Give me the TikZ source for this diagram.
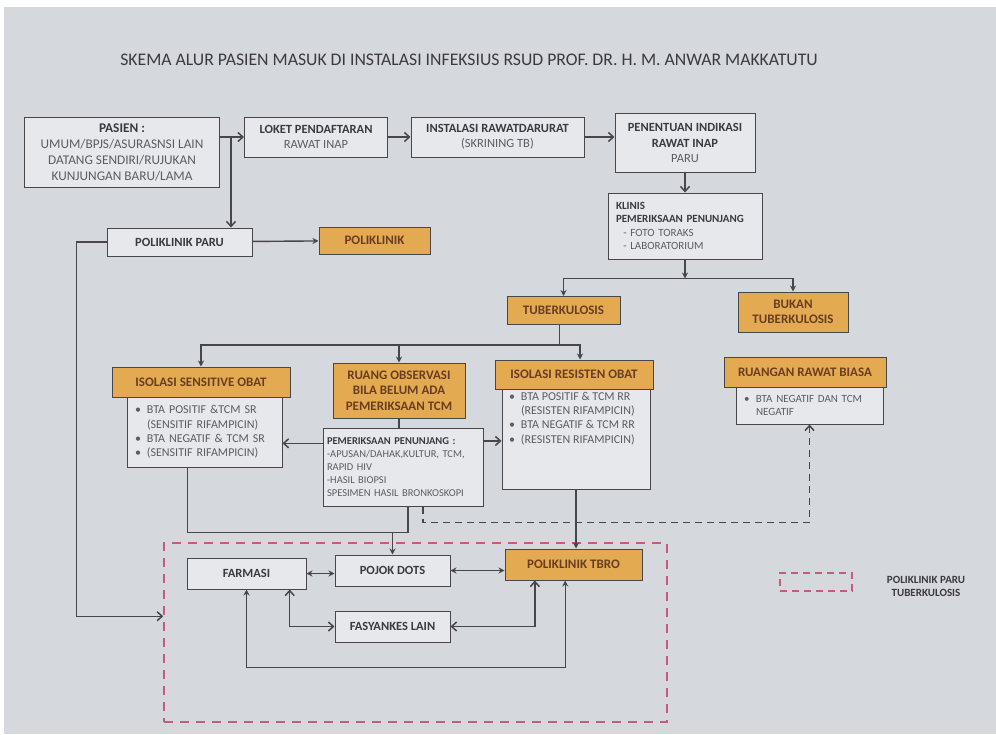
\documentclass[tikz,border=0pt]{standalone}
\usepackage{fontspec}
\setmainfont{Carlito}
\usetikzlibrary{arrows.meta, calc}

\definecolor{bgc}{RGB}{213,216,221}
\definecolor{boxc}{RGB}{230,232,235}
\definecolor{linec}{RGB}{70,70,75}
\definecolor{txtc}{RGB}{92,92,98}
\definecolor{boldc}{RGB}{58,58,64}
\definecolor{orgc}{RGB}{228,170,82}
\definecolor{orgtxt}{RGB}{105,62,32}
\definecolor{pinkc}{RGB}{196,92,122}

\newcommand{\hd}[1]{{\bfseries\color{boldc}#1}}
\newcommand{\bul}{\makebox[12pt][l]{\textbullet}}
\newcommand{\ind}{\hspace*{12pt}}

\begin{document}
\begin{tikzpicture}[x=1pt, y=-1pt,
  flowbox/.style={draw=linec, fill=boxc, line width=1pt, text=txtc, align=center, inner sep=2pt, font=\fontsize{12.5}{15.5}\selectfont},
  hdr/.style={flowbox, fill=orgc, text=orgtxt, font=\bfseries\fontsize{13}{15.5}\selectfont},
  arr/.style={-{Straight Barb[length=5pt,width=9pt]}, line width=1.5pt, draw=linec},
  tri/.style={-{Stealth[length=6pt,width=6pt]}, line width=1.4pt, draw=linec},
  darr/.style={{Stealth[length=6pt,width=6pt]}-{Stealth[length=6pt,width=6pt]}, line width=1.4pt, draw=linec},
  odarr/.style={{Straight Barb[length=5pt,width=9pt]}-{Straight Barb[length=5pt,width=9pt]}, line width=1.5pt, draw=linec},
  ln/.style={line width=1.5pt, draw=linec},
  zonebox/.style={draw=pinkc, line width=1.6pt, dash pattern=on 9pt off 7pt},
  dasharr/.style={arr, dash pattern=on 7pt off 5pt}
]
\fill[white] (0,0) rectangle (996,734);
\fill[bgc] (4,7) rectangle (996,734);
\useasboundingbox (0,0) rectangle (996,734);

\node[font=\fontsize{17.7}{21}\selectfont, text=boldc] (title) at (469,60) {SKEMA ALUR PASIEN MASUK DI INSTALASI INFEKSIUS RSUD PROF. DR. H. M. ANWAR MAKKATUTU};

% zona poliklinik paru tuberkulosis
\node[zonebox, minimum width=503, minimum height=179] (zone) at (415.5,632.5) {};

% alur masuk
\node[flowbox, minimum width=195, minimum height=70, font=\fontsize{13.3}{16}\selectfont] (pasien) at (122,152.5) {\hd{PASIEN :}\\UMUM/BPJS/ASURASNSI LAIN\\DATANG SENDIRI/RUJUKAN\\KUNJUNGAN BARU/LAMA};
\node[flowbox, minimum width=143, minimum height=40] (loket) at (316,137) {\hd{LOKET PENDAFTARAN}\\RAWAT INAP};
\node[flowbox, minimum width=173, minimum height=40] (inst) at (497.5,137) {\hd{INSTALASI RAWATDARURAT}\\(SKRINING TB)};
\node[flowbox, minimum width=140, minimum height=59] (pen) at (685,143) {\hd{PENENTUAN INDIKASI}\\\hd{RAWAT INAP}\\PARU};
\node[flowbox, align=left, text width=138, inner xsep=8, minimum height=66, font=\fontsize{11}{13.5}\selectfont] (klinis) at (685,226) {\hd{KLINIS}\\\hd{PEMERIKSAAN PENUNJANG}\\\ \ - FOTO TORAKS\\\ \ - LABORATORIUM};
\node[flowbox, minimum width=145, minimum height=28] (polparu) at (179.5,242) {\hd{POLIKLINIK PARU}};
\node[hdr, minimum width=111, minimum height=27] (polk) at (374.5,240.5) {POLIKLINIK};

% diagnosis
\node[hdr, minimum width=113, minimum height=28] (tb) at (563.5,310.5) {TUBERKULOSIS};
\node[hdr, minimum width=110, minimum height=40] (bukan) at (793,312) {BUKAN\\TUBERKULOSIS};

% ruang rawat
\node[flowbox, align=left, text width=139, inner xsep=8, minimum height=70, font=\fontsize{12}{14.3}\selectfont] (sensbody) at (204.5,432) {\bul BTA POSITIF \&TCM SR\\\ind(SENSITIF RIFAMPICIN)\\\bul BTA NEGATIF \& TCM SR\\\bul (SENSITIF RIFAMPICIN)};
\node[hdr, minimum width=178, minimum height=30] (senshdr) at (201,382) {ISOLASI SENSITIVE OBAT};
\node[hdr, minimum width=132, minimum height=55] (obs) at (399,390.5) {RUANG OBSERVASI\\BILA BELUM ADA\\PEMERIKSAAN TCM};
\node[flowbox, align=left, text width=152, inner xsep=4, minimum height=78, font=\fontsize{10.5}{12.8}\selectfont] (pem) at (403,467) {\hd{PEMERIKSAAN PENUNJANG :}\\-APUSAN/DAHAK,KULTUR, TCM,\\RAPID HIV\\-HASIL BIOPSI\\SPESIMEN HASIL BRONKOSKOPI};
\node[flowbox, inner sep=0pt, minimum width=148, minimum height=100, font=\fontsize{12}{14.3}\selectfont] (resbody) at (576,439) {\parbox[c][94pt][t]{134pt}{\raggedright\bul BTA POSITIF \& TCM RR\\\ind(RESISTEN RIFAMPICIN)\\\bul BTA NEGATIF \& TCM RR\\\bul (RESISTEN RIFAMPICIN)}};
\node[hdr, minimum width=158, minimum height=29] (reshdr) at (574,374.5) {ISOLASI RESISTEN OBAT};
\node[flowbox, align=left, text width=131, inner xsep=8, minimum height=37, font=\fontsize{11}{13.5}\selectfont] (rbody) at (809.5,405.5) {\bul BTA NEGATIF DAN TCM\\\ind NEGATIF};
\node[hdr, minimum width=162, minimum height=30] (rhdr) at (805,372) {RUANGAN RAWAT BIASA};

% layanan lanjutan
\node[flowbox, minimum width=119, minimum height=31] (farm) at (246.5,573.5) {\hd{FARMASI}};
\node[flowbox, minimum width=115, minimum height=31] (dots) at (392.5,570.5) {\hd{POJOK DOTS}};
\node[hdr, minimum width=137, minimum height=31] (tbro) at (573.5,564.5) {POLIKLINIK TBRO};
\node[flowbox, minimum width=115, minimum height=31] (fas) at (392.5,626.5) {\hd{FASYANKES LAIN}};

% keterangan
\node[zonebox, line width=1.3pt, dash pattern=on 7pt off 5pt, minimum width=72, minimum height=18] (legbox) at (816,582) {};
\node[font=\bfseries\fontsize{11}{13}\selectfont, text=boldc, align=center] (legtxt) at (926,586) {POLIKLINIK PARU\\TUBERKULOSIS};

% panah
\coordinate (tap) at ($(pasien.east |- loket.west)+(11,0)$);
\draw[arr] (pasien.east |- loket.west) -- (loket.west);
\draw[arr] (tap) -- (tap |- polparu.north);
\draw[arr] (loket) -- (inst);
\draw[arr] (inst.east) -- (inst.east -| pen.west);
\draw[arr] (pen) -- (klinis);
\draw[tri] (polparu) -- (polk);
\draw[arr] (polparu.west) -- ++(-30,0) |- ($(zone.north west)!0.41!(zone.south west)$);

\coordinate (ksplit) at ($(klinis.south)+(0,19)$);
\draw[tri] (klinis.south) -- (ksplit);
\draw[tri] (ksplit) -| (tb.north);
\draw[tri] (ksplit) -| (bukan.north);

\coordinate (tsplit) at ($(tb.south)+(-4,20)$);
\draw[ln] (tb.south -| tsplit) -- (tsplit);
\draw[tri] (tsplit) -| (senshdr.north);
\draw[tri] (tsplit) -| (obs.north);
\draw[tri] (tsplit) -| ($(reshdr.north)+(6,0)$);

\draw[ln] (obs.south) -- (obs.south |- pem.north);
\coordinate (pl) at ($(pem.north west)!0.2!(pem.south west)$);
\coordinate (pr) at ($(pem.north east)!0.17!(pem.south east)$);
\draw[arr] (pl) -- (pl -| sensbody.east);
\draw[arr] (pr) -- (pr -| resbody.west);
\coordinate (pd) at ($(pem.south west)!0.625!(pem.south east)$);
\draw[dasharr] (pd) -- ++(0,16) -| (rbody.south);

\coordinate (mj) at ($(pem.south)+(5,26)$);
\coordinate (sb) at ($(sensbody.south west)!0.39!(sensbody.south east)$);
\draw[ln] (sb) |- (mj);
\draw[ln] (pem.south -| mj) -- (mj);
\draw[tri] (dots.north |- mj) -- (dots.north);
\draw[tri] (resbody.south) -- (resbody.south |- tbro.north);

\draw[darr] (farm.east) -- (farm.east -| dots.west);
\draw[darr] (dots.east) -- (dots.east -| tbro.west);
\draw[odarr] ($(farm.south west)!0.86!(farm.south east)$) |- (fas.west);
\draw[odarr] (fas.east) -| ($(tbro.south west)!0.22!(tbro.south east)$);
\draw[darr] (farm.south) -- ++(0,78) -| ($(tbro.south west)!0.44!(tbro.south east)$);
\end{tikzpicture}
\end{document}
